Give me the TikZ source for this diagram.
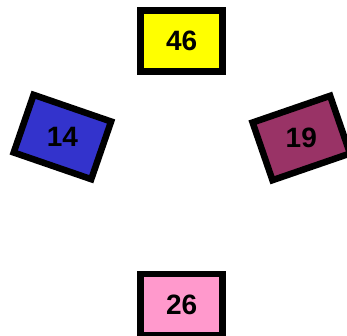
\documentclass[tikz,border=0pt]{standalone}
\usepackage{fontspec}
\setmainfont{Liberation Sans}
\definecolor{cyellow}{HTML}{FFFF00}
\definecolor{cblue}{HTML}{3333CC}
\definecolor{cpurple}{HTML}{993366}
\definecolor{cpink}{HTML}{FF99CC}
\tikzset{
  numbox/.style={draw=black, line width=6.5pt, minimum width=82pt, minimum height=61pt, inner sep=0pt, outer sep=0pt},
  numlabel/.style={inner sep=0pt, font=\fontsize{28}{28}\selectfont\bfseries, text=black}
}
\begin{document}
\begin{tikzpicture}[x=1pt,y=1pt]
\useasboundingbox (0,0) rectangle (347,335);
\node[numbox, fill=cyellow] (b46) at (181.7,293.8) {};
\node[numlabel] (t46) at (b46.center) {46};
\node[numbox, fill=cpink] (b26) at (181.7,30.3) {};
\node[numlabel] (t26) at (b26.center) {26};
\node[numbox, fill=cblue, rotate=-19] (b14) at (62.4,198) {};
\node[numlabel] (t14) at (b14.center) {14};
\node[numbox, fill=cpurple, rotate=19] (b19) at (301.3,197) {};
\node[numlabel] (t19) at (b19.center) {19};
\end{tikzpicture}
\end{document}
